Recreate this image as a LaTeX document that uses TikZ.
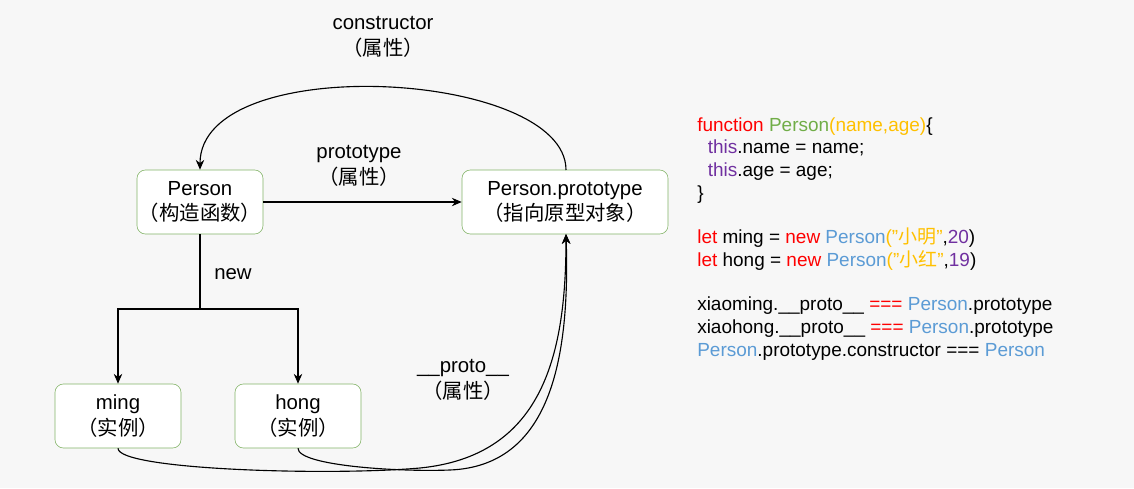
\documentclass[tikz,border=0pt]{standalone}
\usepackage{fontspec}
\setmainfont{Liberation Sans}
\newfontfamily\cjk{Noto Sans CJK SC}
\usetikzlibrary{arrows.meta}
\definecolor{boxgreen}{HTML}{82B366}
\definecolor{kwred}{HTML}{FF0000}
\definecolor{fngreen}{HTML}{70AD47}
\definecolor{argorange}{HTML}{FFC000}
\definecolor{thispurple}{HTML}{7030A0}
\definecolor{clsblue}{HTML}{5B9BD5}
\newcommand{\zh}[1]{{\cjk #1}}
\tikzset{
	box/.style={draw=boxgreen, fill=white, rounded corners=6pt, minimum width=3.15cm, minimum height=1.6cm, inner sep=1pt, align=center, font=\fontsize{14.5}{18.4}\selectfont},
	lbl/.style={align=center, font=\fontsize{14.5}{18.4}\selectfont},
	code/.style={anchor=north west, align=left, inner sep=0pt, font=\fontsize{13.5}{16.3}\selectfont},
	link/.style={thick, -{Stealth[length=7pt,width=6pt]}}
}
\begin{document}
\begin{tikzpicture}[x=0.025cm, y=-0.025cm]
	\path[fill=gray!6] (0,0) rectangle (1134,488);
	\useasboundingbox (0,0) rectangle (1134,488);
	
	\node[box, minimum width=3.15cm] (person) at (200,202) {Person\\\zh{（构造函数）}};
	\node[box, minimum width=5.15cm] (proto) at (565,202) {Person.prototype\\\zh{（指向原型对象）}};
	\node[box] (ming) at (118,416) {ming\\\zh{（实例）}};
	\node[box] (hong) at (298,416) {hong\\\zh{（实例）}};
	
	\coordinate (split) at (200,309);
	\coordinate (protoTop) at (566,170);
	\coordinate (protoBot) at (566,234);
	
	\draw[link] (person) -- (proto);
	\draw[link] (protoTop) .. controls (566,70) and (200,50) .. (person.north);
	\draw[thick] (person.south) -- (split);
	\draw[link] (split) -| (ming.north);
	\draw[link] (split) -| (hong.north);
	\draw[link] (ming.south) .. controls (118,470) and (330,476) .. (420,468) .. controls (540,456) and (566,360) .. (protoBot);
	\draw[link] (hong.south) .. controls (298,466) and (400,472) .. (450,470) .. controls (550,466) and (570,360) .. (protoBot);
	
	\node[lbl] (lblCons) at (383,37) {constructor\\\zh{（属性）}};
	\node[lbl] (lblProt) at (359,166) {prototype\\\zh{（属性）}};
	\node[lbl] (lblNew) at (233,274) {new};
	\node[lbl] (lblDunder) at (463,380) {\_\_proto\_\_\\\zh{（属性）}};
	
	\node[code] (src) at (697,117) {%
		\textcolor{kwred}{function} \textcolor{fngreen}{Person}\textcolor{argorange}{(name,age)}\{\\
		\ \ \textcolor{thispurple}{this}.name = name;\\
		\ \ \textcolor{thispurple}{this}.age = age;\\
		\}\\[15pt]
		\textcolor{kwred}{let} ming = \textcolor{kwred}{new} \textcolor{clsblue}{Person}\textcolor{argorange}{("\zh{小明}"}{,}\textcolor{thispurple}{20})\\
		\textcolor{kwred}{let} hong = \textcolor{kwred}{new} \textcolor{clsblue}{Person}\textcolor{argorange}{("\zh{小红}"}{,}\textcolor{thispurple}{19})\\[15pt]
		xiaoming.\_\_proto\_\_ \textcolor{kwred}{===} \textcolor{clsblue}{Person}.prototype\\
		xiaohong.\_\_proto\_\_ \textcolor{kwred}{===} \textcolor{clsblue}{Person}.prototype\\
		\textcolor{clsblue}{Person}.prototype.constructor === \textcolor{clsblue}{Person}};
\end{tikzpicture}
\end{document}
